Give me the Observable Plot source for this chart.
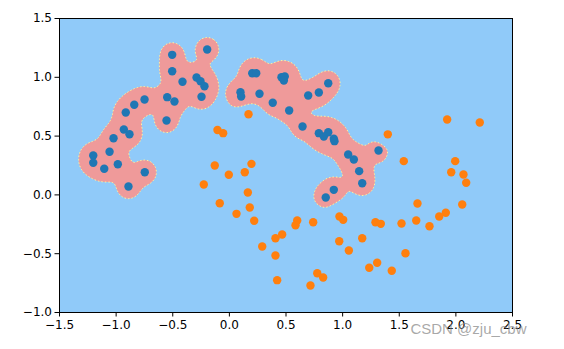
<!DOCTYPE html>
<html>
<head>
<meta charset="utf-8">
<script src="https://cdn.jsdelivr.net/npm/d3@7"></script>
<script src="https://cdn.jsdelivr.net/npm/@observablehq/plot@0.6"></script>
<style>
  html, body { margin: 0; padding: 0; background: #fff; }
</style>
</head>
<body>
<div id="chart"></div>
<script>
// Class 0 (blue) points
const blueX = [-0.196,-0.505,-0.505,-0.414,-0.290,-0.255,-0.220,-0.246,-0.549,-0.485,
  -0.749,-0.840,-0.915,-0.555,-0.932,-0.882,-1.023,-1.058,-1.202,-1.202,
  -1.105,-0.985,-0.747,-0.891,0.202,0.237,0.460,0.489,0.481,0.098,
  0.104,0.266,0.383,0.528,0.696,0.790,0.873,0.646,0.790,0.873,
  0.834,0.922,0.928,1.049,1.099,1.317,1.146,1.173,0.922,0.851];
const blueY = [1.236,1.191,1.052,0.962,0.998,0.967,0.924,0.834,0.831,0.794,
  0.811,0.766,0.701,0.633,0.556,0.516,0.482,0.367,0.335,0.273,
  0.222,0.261,0.193,0.071,1.035,1.035,1.001,1.007,0.973,0.873,
  0.837,0.860,0.783,0.718,0.845,0.871,0.950,0.582,0.525,0.533,
  0.497,0.477,0.457,0.344,0.301,0.378,0.202,0.099,0.043,-0.022];
// Class 1 (orange) points
const orangeX = [-0.105,-0.055,0.169,1.399,1.923,2.211,-0.129,0.195,-0.005,0.136,
  -0.226,0.163,1.540,1.994,1.959,2.067,2.091,-0.085,0.180,0.063,
  0.219,0.599,0.584,0.740,0.972,1.005,1.661,2.056,1.911,1.853,
  1.290,1.337,1.520,1.650,1.767,0.466,0.407,0.290,0.407,0.970,
  1.055,1.173,1.555,1.305,1.235,1.434,0.776,0.828,0.716,0.422];
const orangeY = [0.552,0.525,0.686,0.515,0.641,0.616,0.250,0.264,0.171,0.193,
  0.088,0.020,0.287,0.287,0.193,0.173,0.103,-0.071,-0.107,-0.161,
  -0.220,-0.218,-0.258,-0.232,-0.184,-0.212,-0.073,-0.082,-0.152,-0.184,
  -0.232,-0.246,-0.243,-0.218,-0.266,-0.337,-0.368,-0.439,-0.515,-0.394,
  -0.473,-0.368,-0.496,-0.577,-0.620,-0.645,-0.666,-0.702,-0.770,-0.725];
const xTicks = [-1.5,-1.0,-0.5,0.0,0.5,1.0,1.5,2.0,2.5];
const yTicks = [-1.0,-0.5,0.0,0.5,1.0,1.5];
const watermark = ["CSDN @zju_cbw"];

const blue = blueX.map((x, i) => ({x, y: blueY[i]}));
const orange = orangeX.map((x, i) => ({x, y: orangeY[i]}));

// RBF-like decision function built from the training points
const G = 100, T = 0.35;
const decision = (x, y) => {
  let s = 0;
  for (const p of blue) { const dx = x - p.x, dy = y - p.y; s += Math.exp(-G * (dx*dx + dy*dy)); }
  for (const p of orange) { const dx = x - p.x, dy = y - p.y; s -= Math.exp(-G * (dx*dx + dy*dy)); }
  return s;
};

const fmt = d3.format(".1f");

const chart = Plot.plot({
  width: 564,
  height: 349,
  marginLeft: 59,
  marginRight: 52,
  marginTop: 18,
  marginBottom: 37,
  style: { fontFamily: "DejaVu Sans", fontSize: "12px", color: "#000", background: "#fff", overflow: "visible" },
  x: { domain: [-1.5, 2.5], label: null },
  y: { domain: [-1.0, 1.5], label: null },
  marks: [
    Plot.frame({ fill: "#90CAF9" }),
    Plot.contour({
      value: decision,
      x1: -1.5, x2: 2.5, y1: -1.0, y2: 1.5,
      thresholds: [T],
      fill: "#EF9A9A",
      stroke: "#FFF59D",
      strokeWidth: 1,
      strokeDasharray: "1.5,2"
    }),
    Plot.dot(blue, { x: "x", y: "y", r: 4.2, fill: "#1f77b4", stroke: "none" }),
    Plot.dot(orange, { x: "x", y: "y", r: 4.2, fill: "#ff7f0e", stroke: "none" }),
    Plot.frame({ stroke: "#000", strokeWidth: 1 }),
    Plot.axisX({ ticks: xTicks, tickFormat: fmt, tickSize: 4.5, tickPadding: 3, fontSize: 12, label: null }),
    Plot.axisY({ ticks: yTicks, tickFormat: fmt, tickSize: 4.5, tickPadding: 3, fontSize: 12, label: null }),
    Plot.text(watermark, {
      frameAnchor: "bottom-right",
      text: d => d,
      dx: 14, dy: 17,
      textAnchor: "end",
      lineAnchor: "middle",
      fontSize: 15,
      fontFamily: "Liberation Sans",
      fill: "rgba(140,140,140,0.75)"
    })
  ]
});
document.getElementById("chart").appendChild(chart);
</script>
</body>
</html>
